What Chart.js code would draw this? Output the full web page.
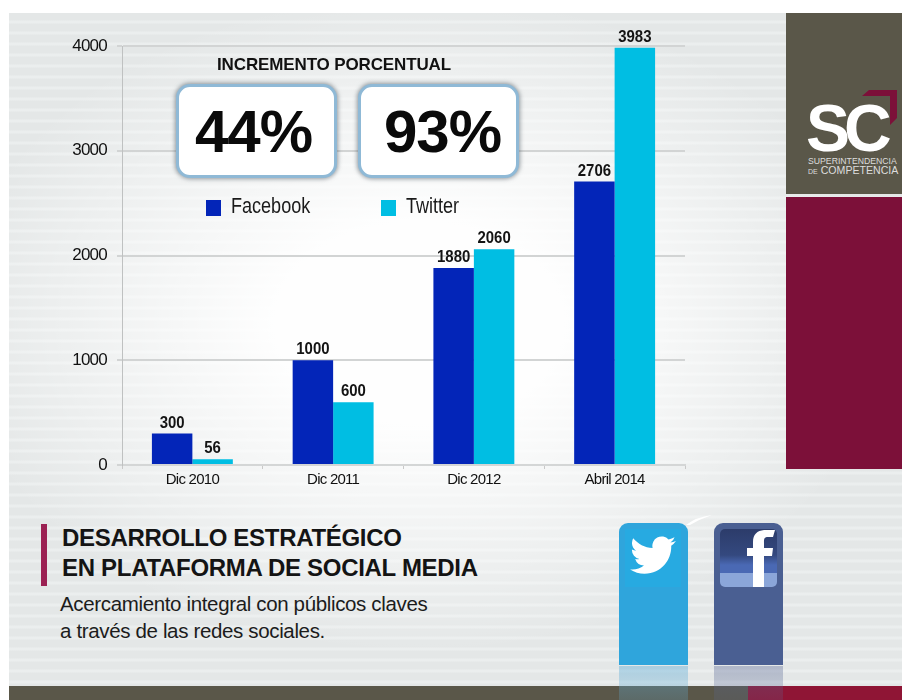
<!DOCTYPE html>
<html lang="es">
<head>
<meta charset="utf-8">
<title>Desarrollo estratégico en plataforma de social media</title>
<script src="https://cdn.jsdelivr.net/npm/chart.js@4/dist/chart.umd.min.js"></script>
<style>
html,body{margin:0;padding:0;background:#fff;overflow:hidden}
#stage{position:relative;width:902px;height:700px;overflow:hidden;background:#fff;font-family:"Liberation Sans",Arial,sans-serif;color:#111}
#stage>*{position:absolute}
#bg{left:9px;top:13px;width:893px;height:673px;background:
 radial-gradient(ellipse 470px 330px at 410px 310px,rgba(255,255,255,.97) 30%,rgba(255,255,255,0) 100%),
 repeating-linear-gradient(180deg,#e4e7e7 0,#e4e7e7 7px,#ebeeee 8px,#ebeeee 10px,#e4e7e7 11px)}
#chart{left:0;top:0}
.box{top:84px;width:155px;height:88px;background:#fff;border:3px solid #8fb9d6;border-radius:14px;box-shadow:0 0 4px 1px rgba(70,80,90,.55);font:bold 60px "Liberation Sans",sans-serif;line-height:90px;text-align:center;color:#0a0a0a;letter-spacing:-1px}
.box span{position:relative}
#inc{left:217px;top:55px;font:bold 17px "Liberation Sans",sans-serif;letter-spacing:-.13px;white-space:nowrap}
#olive{left:786px;top:13px;width:116px;height:181px;background:#5a5749}
#crimson{left:786px;top:197px;width:116px;height:272px;background:#7c1039}
#sc{left:806px;top:95px;font:bold 66px/66px "Liberation Sans",sans-serif;color:#fff;letter-spacing:-6px}
#corner{left:862px;top:90px}
#sup{left:808px;top:157px;color:#ddd;font:8.7px/9px "Liberation Sans",sans-serif;white-space:nowrap}
#sup2{left:808px;top:165px;color:#ddd;font:10.6px/11px "Liberation Sans",sans-serif;white-space:nowrap}
#sup2 small{font-size:7px}
#mark{left:41px;top:524px;width:6px;height:62px;background:#9b2153}
#title{left:62px;top:523px;font:bold 24px/30px "Liberation Sans",sans-serif;letter-spacing:-.3px;white-space:nowrap;color:#141414}
#sub{left:60px;top:590px;font:20.5px/27px "Liberation Sans",sans-serif;letter-spacing:-.35px;white-space:nowrap;color:#1c1c1c}
#f1{left:9px;top:686px;width:739px;height:14px;background:#5a5749}
#f2{left:748px;top:686px;width:154px;height:14px;background:#8f1535}
.ic{top:523px;width:69px;height:142px;border-radius:9px 9px 0 0}
.ref{top:666px;width:69px;height:34px;background:linear-gradient(180deg,rgba(100,175,215,.45),rgba(100,175,215,.22))}
#spark{left:686px;top:514px}
</style>
</head>
<body>
<div id="stage">
 <div id="bg"></div>
 <div id="olive"></div>
 <div id="crimson"></div>
 <div id="sc">SC</div>
 <svg id="corner" width="35" height="35" viewBox="0 0 35 35"><path d="M7 0H35V28L28 35V6H0Z" fill="#7c1039"/></svg>
 <div id="sup">SUPERINTENDENCIA</div>
 <div id="sup2"><small>DE</small> COMPETENCIA</div>
 <canvas id="chart" width="760" height="500"></canvas>
 <div id="inc">INCREMENTO PORCENTUAL</div>
 <div class="box" style="left:176px"><span style="left:-3px">44%</span></div>
 <div class="box" style="left:358px"><span style="left:4px">93%</span></div>
 <div id="mark"></div>
 <div id="title">DESARROLLO ESTRATÉGICO<br>EN PLATAFORMA DE SOCIAL MEDIA</div>
 <div id="sub">Acercamiento integral con públicos claves<br>a través de las redes sociales.</div>
 <div id="f1"></div>
 <div id="f2"></div>
 <svg id="spark" width="26" height="12"><path d="M0 11Q10 3 26 1Q14 5 4 11Z" fill="#fff"/></svg>
 <div class="ic" style="left:619px;background:#2fa5dc"></div>
 <div style="left:625px;top:529px;width:56px;height:58px;background:#27aae1"></div>
 <svg style="left:630px;top:536px" width="46" height="42" viewBox="0 0 24 22"><path transform="translate(0,-2)" fill="#fff" d="M23.953 4.57a10 10 0 01-2.825.775 4.958 4.958 0 002.163-2.723c-.951.555-2.005.959-3.127 1.184a4.92 4.92 0 00-8.384 4.482C7.69 8.095 4.067 6.13 1.64 3.162a4.822 4.822 0 00-.666 2.475c0 1.71.87 3.213 2.188 4.096a4.904 4.904 0 01-2.228-.616v.06a4.923 4.923 0 003.946 4.827 4.996 4.996 0 01-2.212.085 4.936 4.936 0 004.604 3.417 9.867 9.867 0 01-6.102 2.105c-.39 0-.779-.023-1.17-.067a13.995 13.995 0 007.557 2.209c9.053 0 13.998-7.496 13.998-13.985 0-.21 0-.42-.015-.63A9.935 9.935 0 0024 4.59z"/></svg>
 <div class="ref" style="left:619px"></div>
 <div class="ic" style="left:714px;background:#4a5f92"></div>
 <div style="left:720px;top:529px;width:57px;height:58px;border-radius:5px;background:linear-gradient(180deg,#2c3c6a 0,#34497f 45%,#4a69b4 62%,#4a69b4 76%,#8ba6d9 76%,#8ba6d9 100%)"></div>
 <svg style="left:747px;top:530px" width="29" height="57" viewBox="0 0 29 57"><path fill="#fff" d="M6 57V26H0V18H6V12C6 4 11 0 19 0H28L26 7H21C17 7 17 9 17 13V18H26L25 26H17V57Z"/></svg>
 <div class="ref" style="left:714px;background:linear-gradient(180deg,rgba(90,105,150,.38),rgba(90,105,150,.2))"></div>
</div>
<script>
const categories = ["Dic 2010", "Dic 2011", "Dic 2012", "Abril 2014"];
const facebook = [300, 1000, 1880, 2706];
const twitter = [56, 600, 2060, 3983];
const yTicks = [0, 1000, 2000, 3000, 4000];
const colorFacebook = "#0325b8";
const colorTwitter = "#00bee3";
const sans = '"Liberation Sans",sans-serif';

const squeezeTicks = {
  id: "squeezeTicks",
  beforeDraw(chart) { chart.ctx.letterSpacing = "-0.75px"; chart.ctx.fontKerning = "normal"; }
};
function narrowText(c, text, x, y, sx) {
  c.save();
  c.translate(x, y);
  c.scale(sx, 1);
  c.letterSpacing = "0px";
  c.fillText(text, 0, 0);
  c.restore();
}
const valueLabels = {
  id: "valueLabels",
  afterDatasetsDraw(chart) {
    const c = chart.ctx;
    c.save();
    c.font = "bold 17px " + sans;
    c.fillStyle = "#141414";
    c.textAlign = "center";
    c.textBaseline = "bottom";
    chart.data.datasets.forEach((ds, i) => {
      chart.getDatasetMeta(i).data.forEach((bar, j) => {
        narrowText(c, String(ds.data[j]), bar.x, bar.y - 2, 0.88);
      });
    });
    c.restore();
  }
};
const topLegend = {
  id: "topLegend",
  afterDraw(chart) {
    const c = chart.ctx;
    const slots = [206, 381];
    c.save();
    c.font = "22px " + sans;
    c.textBaseline = "middle";
    c.textAlign = "left";
    chart.data.datasets.forEach((ds, i) => {
      c.fillStyle = ds.backgroundColor;
      c.fillRect(slots[i], 200, 15, 16);
      c.fillStyle = "#1a1a1a";
      narrowText(c, ds.label, slots[i] + 25, 207, 0.82);
    });
    c.restore();
  }
};

new Chart(document.getElementById("chart"), {
  type: "bar",
  data: {
    labels: categories,
    datasets: [
      { label: "Facebook", data: facebook, backgroundColor: colorFacebook, borderWidth: 0 },
      { label: "Twitter", data: twitter, backgroundColor: colorTwitter, borderWidth: 0 }
    ]
  },
  options: {
    responsive: false,
    animation: false,
    layout: { padding: { left: 0, top: 46, right: 75, bottom: 5 } },
    datasets: { bar: { categoryPercentage: 0.575, barPercentage: 1 } },
    plugins: { legend: { display: false }, tooltip: { enabled: false }, title: { display: false } },
    scales: {
      x: {
        afterFit(s) { s.height = 30; },
        grid: { display: true, drawOnChartArea: false, drawTicks: true, tickLength: 4, color: "#c9c9c9", offset: true },
        border: { color: "#d4d6d6", width: 2 },
        ticks: { color: "#111", font: { family: sans, size: 15 }, padding: 2, maxRotation: 0 }
      },
      y: {
        min: 0,
        max: 4000,
        afterFit(s) { s.width = 122; },
        afterBuildTicks(s) { s.ticks = yTicks.map(v => ({ value: v })); },
        grid: { color: "#d2d4d4", lineWidth: 2, tickLength: 5 },
        border: { color: "#bfc1c1", width: 1 },
        ticks: { color: "#111", font: { family: sans, size: 17 }, padding: 10, callback: v => String(v) }
      }
    }
  },
  plugins: [squeezeTicks, valueLabels, topLegend]
});
</script>
</body>
</html>
